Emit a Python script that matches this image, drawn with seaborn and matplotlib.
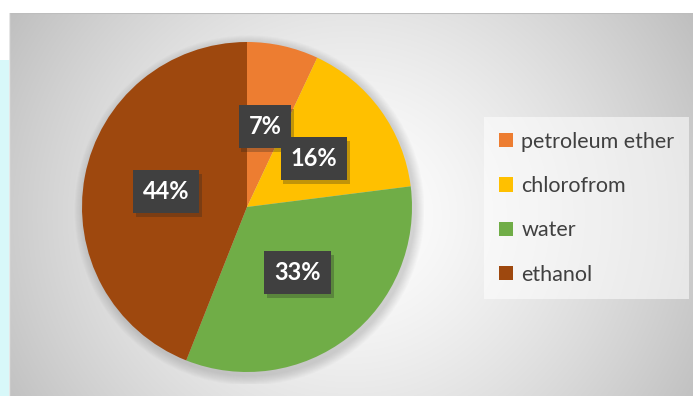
import numpy as np
import matplotlib
matplotlib.use("Agg")
import matplotlib.pyplot as plt
import matplotlib.patheffects as pe
from matplotlib.patches import Circle
import seaborn as sns

# ---- data ----
categories = ["petroleum ether", "chlorofrom", "water", "ethanol"]
values = [7, 16, 33, 44]
colors = ["#ED7D31", "#FFC000", "#70AD47", "#9E480E"]

sns.set_style("white")
plt.rcParams["font.family"] = ["Lato", "DejaVu Sans"]

W, H = 693, 396
fig = plt.figure(figsize=(W / 100, H / 100), dpi=100)
fig.patch.set_facecolor("white")

# left cyan strip
strip = fig.add_axes([0, 0, 9 / W, (H - 60) / H])
strip.set_facecolor("#d8f8f9")
strip.set_xticks([]); strip.set_yticks([])
for s in strip.spines.values():
    s.set_visible(False)

# background radial gradient (chart area)
bx0, by0 = 9, 13
bg = fig.add_axes([bx0 / W, 0, (W - bx0) / W, (H - by0) / H])
xs = np.arange(bx0, W)
ys = np.arange(by0, H)
X, Y = np.meshgrid(xs, ys)
r = np.sqrt(((X - 350) / 1.0) ** 2 + ((Y - 215) / 0.95) ** 2)
v = 1 - 0.24 * np.clip(r / 390, 0, 1.2) ** 1.4
img = np.dstack([v, v, v])
bg.imshow(img, extent=[0, 1, 0, 1], aspect="auto", origin="upper")
bg.set_xlim(0, 1); bg.set_ylim(0, 1)
bg.set_xticks([]); bg.set_yticks([])
for s in bg.spines.values():
    s.set_visible(False)
bg.axhline(1, color="#bdbdbd", lw=1.5)
bg.axvline(0, color="#e6e6e6", lw=1)

# pie axes
cx, cy, R = 247, 207, 165
pad = 12
ax = fig.add_axes([(cx - R - pad) / W, (H - cy - R - pad) / H, 2 * (R + pad) / W, 2 * (R + pad) / H])
ax.set_facecolor("none")
lim = (R + pad) / R
# soft shadow beneath the pie
for k in range(10):
    ax.add_patch(Circle((0.015, -0.02), 1.0 + 0.006 * (10 - k), facecolor="#555555",
                        alpha=0.025, linewidth=0, zorder=0))
wedges, texts, autotexts = ax.pie(
    values, colors=colors, startangle=90, counterclock=False,
    autopct="%1.0f%%", pctdistance=0.5, radius=1.0,
    wedgeprops=dict(linewidth=0),
    textprops=dict(color="white", fontsize=17, fontweight="bold"),
)
ax.set_xlim(-lim, lim); ax.set_ylim(-lim, lim)
ax.set_aspect("equal")
ax.axis("off")

for t in autotexts:
    t.set_bbox(dict(boxstyle="square,pad=0.42", facecolor="#404040", linewidth=0))
    t.get_bbox_patch().set_path_effects([pe.SimplePatchShadow(offset=(2, -3), shadow_rgbFace="#222222", alpha=0.28), pe.Normal()])

# legend
handles = [plt.Rectangle((0, 0), 1, 1, facecolor=c, edgecolor="none") for c in colors]
leg = fig.legend(handles, categories, loc="upper left",
                 bbox_to_anchor=(484 / W, 1 - 117 / H),
                 frameon=True, fontsize=15.5, handlelength=0.65, handleheight=0.65,
                 handletextpad=0.4, labelspacing=1.13, borderpad=0.68, borderaxespad=0,
                 fancybox=False)
leg.get_frame().set_facecolor("white")
leg.get_frame().set_alpha(0.55)
leg.get_frame().set_linewidth(0)
for t in leg.get_texts():
    t.set_color("#404040")

fig.savefig("out.png", dpi=100)
